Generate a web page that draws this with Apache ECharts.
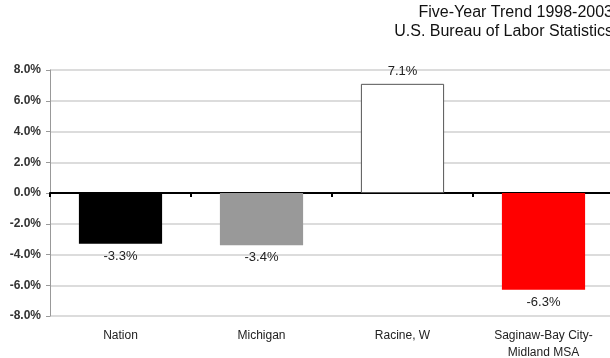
<!DOCTYPE html>
<html>
<head>
<meta charset="utf-8">
<script src="https://cdn.jsdelivr.net/npm/echarts@6/dist/echarts.min.js"></script>
<style>
  html, body { margin: 0; padding: 0; background: #fff; }
  #chart { width: 610px; height: 358px; }
</style>
</head>
<body>
<div id="chart"></div>
<script>
// Five-year employment change by area
const categories = ['Nation', 'Michigan', 'Racine, W', 'Saginaw-Bay City-\nMidland MSA'];
const changePct = [-3.3, -3.4, 7.1, -6.3];
const barColors = ['#000000', '#999999', '#ffffff', '#ff0000'];
const titleLines = ['Five-Year Trend 1998-2003', 'U.S. Bureau of Labor Statistics'];

const FONT = '"Liberation Sans", Arial, sans-serif';

const chart = echarts.init(document.getElementById('chart'), null, { renderer: 'canvas' });

const barData = changePct.map((v, i) => ({
  value: v,
  itemStyle: {
    color: barColors[i],
    borderColor: barColors[i] === '#ffffff' ? '#555555' : barColors[i],
    borderWidth: barColors[i] === '#ffffff' ? 1 : 0
  },
  label: { position: v < 0 ? 'bottom' : 'top' }
}));

// one right-aligned title per line
const titles = titleLines.map((t, i) => ({
  text: t,
  left: 613,
  top: 5 + i * 19,
  textAlign: 'right',
  padding: 0,
  textStyle: {
    fontFamily: FONT,
    fontSize: 16,
    fontWeight: 'normal',
    color: '#111'
  }
}));

chart.setOption({
  animation: false,
  title: titles,
  grid: {
    left: 50, top: 70, width: 564, height: 246,
    containLabel: false,
    outerBoundsMode: 'none'
  },
  xAxis: [
    {
      type: 'category',
      data: categories,
      axisLine: { onZero: true, lineStyle: { color: '#000', width: 2 } },
      axisTick: { show: true, length: 4, lineStyle: { color: '#000', width: 2 } },
      axisLabel: { show: false },
      splitLine: { show: false }
    },
    {
      type: 'category',
      data: categories,
      position: 'bottom',
      axisLine: { show: false, onZero: false },
      axisTick: { show: false },
      axisLabel: {
        margin: 11,
        fontFamily: FONT,
        fontSize: 12,
        color: '#222',
        lineHeight: 17,
        interval: 0
      }
    }
  ],
  yAxis: {
    type: 'value',
    min: -8,
    max: 8,
    interval: 2,
    axisLine: { show: true, lineStyle: { color: '#999', width: 1 } },
    axisTick: { show: true, length: 4, lineStyle: { color: '#999' } },
    axisLabel: {
      margin: 9,
      fontFamily: FONT,
      fontSize: 12,
      fontWeight: 'bold',
      color: '#333',
      formatter: v => v.toFixed(1) + '%'
    },
    splitLine: { show: true, lineStyle: { color: '#dcdcdc', width: 2 } }
  },
  series: [
    {
      type: 'bar',
      xAxisIndex: 0,
      data: barData,
      barWidth: '59%',
      label: {
        show: true,
        distance: 6,
        fontFamily: FONT,
        fontSize: 13,
        color: '#222',
        formatter: p => p.value.toFixed(1) + '%'
      }
    }
  ]
});
</script>
</body>
</html>
